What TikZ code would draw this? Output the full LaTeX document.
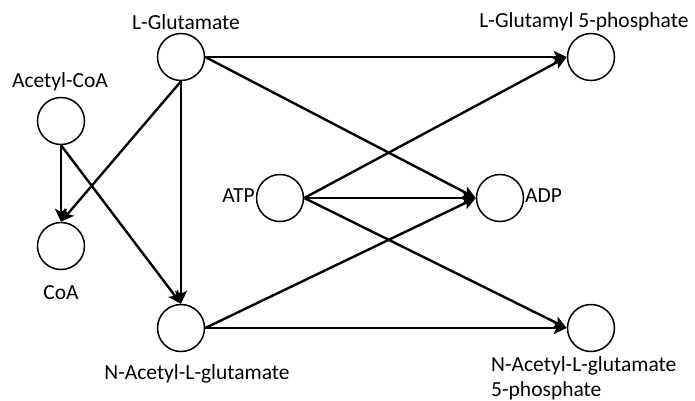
\documentclass[tikz,border=0pt]{standalone}
\usepackage{fontspec}
\setmainfont{Carlito}
\usetikzlibrary{arrows.meta}
\begin{document}
\begin{tikzpicture}[x=1pt,y=-1pt,
  metab/.style={circle,draw=black,line width=1.5pt,minimum size=47pt,inner sep=0pt},
  lbl/.style={font=\fontsize{21.5}{24}\selectfont,text=black,inner sep=0pt},
  rxn/.style={line width=2.4pt,-{Stealth[length=13pt,width=12pt,inset=3pt]}}]
\useasboundingbox (0,0) rectangle (695,400);

% metabolites
\node[metab] (glu)   at (181,57)  {};
\node[metab] (accoa) at (61,121)  {};
\node[metab] (coa)   at (61,246)  {};
\node[metab] (nag)   at (181,328) {};
\node[metab] (atp)   at (280,198) {};
\node[metab] (adp)   at (500,198) {};
\node[metab] (glup)  at (591,57)  {};
\node[metab] (nagp)  at (591,328) {};

% labels
\node[lbl] (tglu)   at (186,22)  {L-Glutamate};
\node[lbl] (taccoa) at (60,82)   {Acetyl-CoA};
\node[lbl] (tcoa)   at (61,293)  {CoA};
\node[lbl] (tnag)   at (197,374) {N-Acetyl-L-glutamate};
\node[lbl,anchor=east] (tatp) at (255,196) {ATP};
\node[lbl,anchor=west] (tadp) at (525,196) {ADP};
\node[lbl] (tglup)  at (584,22)  {L-Glutamyl 5-phosphate};
\node[lbl,anchor=north west,align=left,font=\fontsize{21.5}{25}\selectfont] (tnagp) at (491,356) {N-Acetyl-L-glutamate\\5-phosphate};

% reactions
\draw[rxn] (glu.east) -- (glup.west);
\draw[rxn] (glu.east) -- (adp.west);
\draw[rxn] (glu.south) -- (coa.north);
\draw[rxn] (glu.south) -- (nag.north);
\draw[rxn] (accoa.south) -- (coa.north);
\draw[rxn] (accoa.south) -- (nag.north);
\draw[rxn] (atp.east) -- (glup.west);
\draw[rxn] (atp.east) -- (adp.west);
\draw[rxn] (atp.east) -- (nagp.west);
\draw[rxn] (nag.east) -- (adp.west);
\draw[rxn] (nag.east) -- (nagp.west);
\end{tikzpicture}
\end{document}
